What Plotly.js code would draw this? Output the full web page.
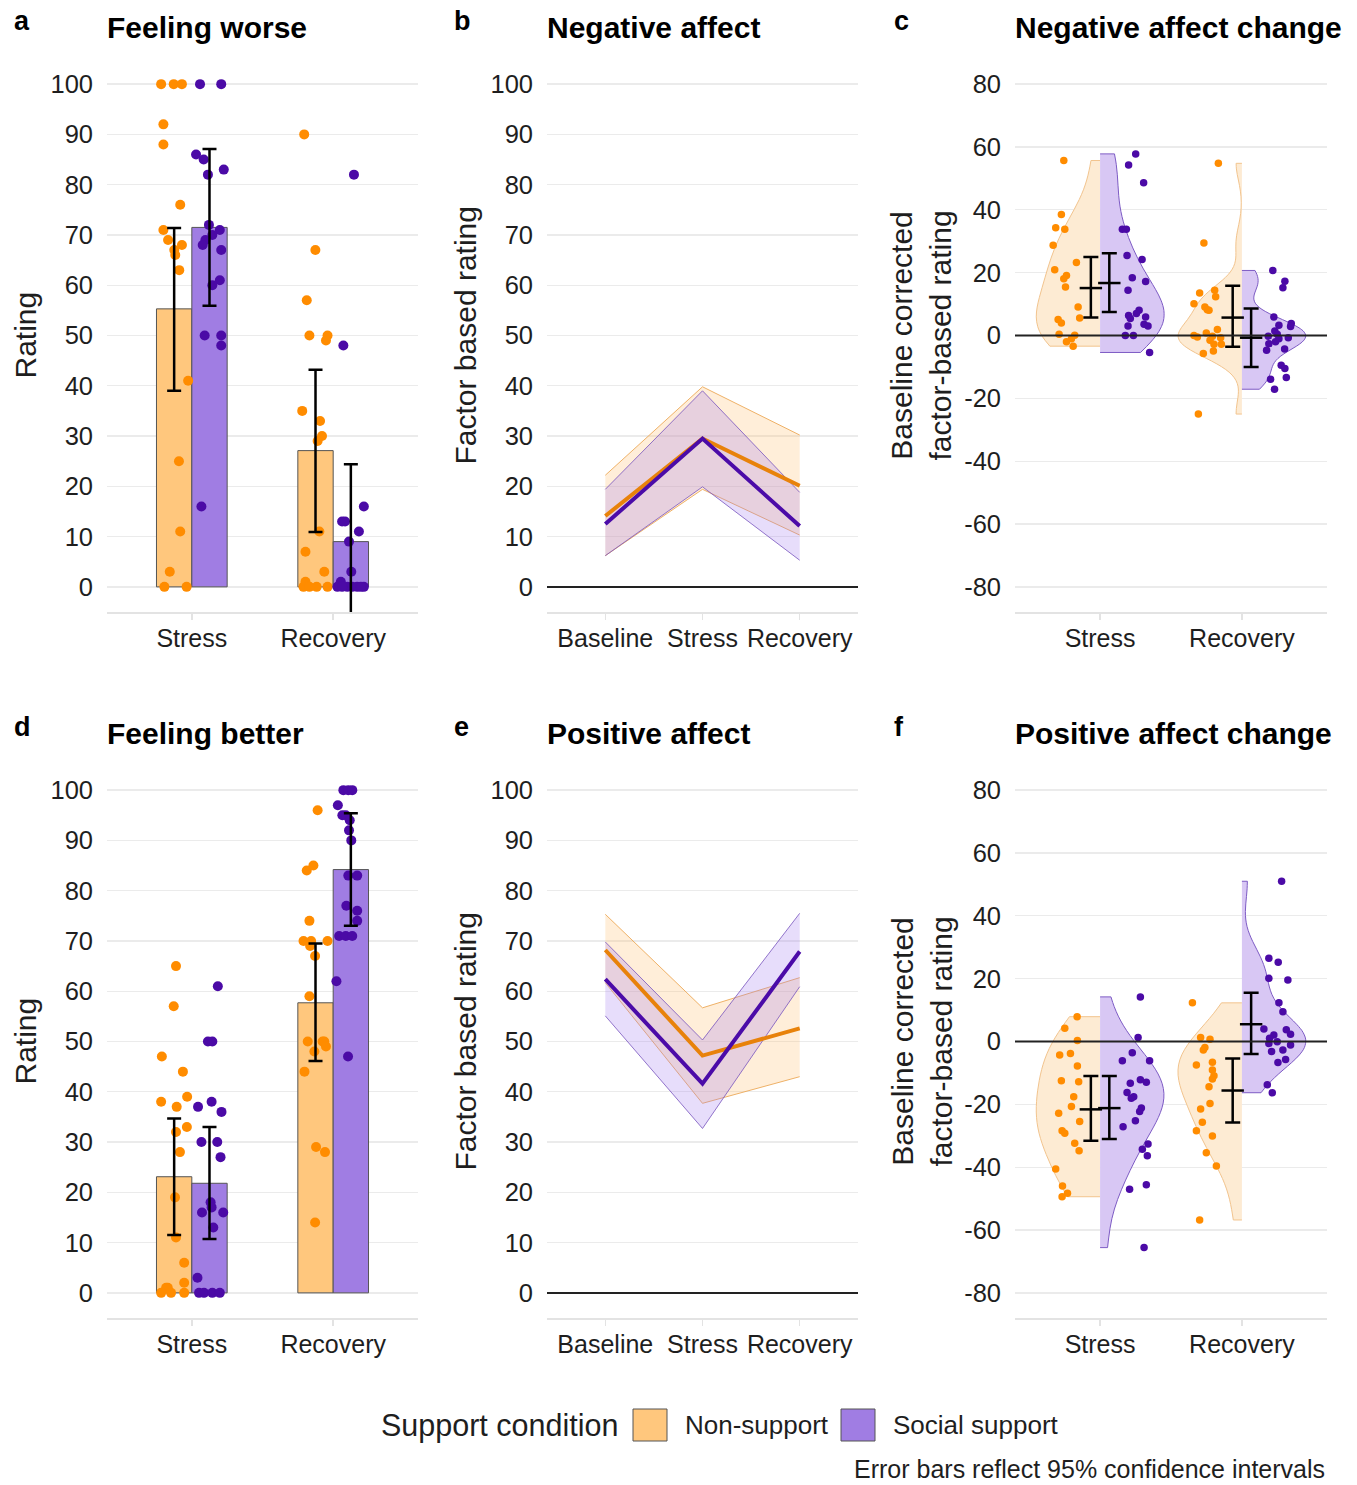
<!DOCTYPE html>
<html><head><meta charset="utf-8">
<script src="https://cdn.plot.ly/plotly-3.0.1.min.js"></script>
<style>html,body{margin:0;padding:0;background:#fff}</style>
</head><body><div id="chart" style="width:1357px;height:1485px"></div>
<script>
// ---------- categories ----------
const groups = ['Non-support', 'Social support'];
const legendTitle = 'Support condition';
const barCats = ['Stress', 'Recovery'];
const timeCats = ['Baseline', 'Stress', 'Recovery'];

// ---------- a: Feeling worse (means, 95% CI) ----------
const worseMeanNS = [55.3, 27.1];
const worseLowNS  = [39.0, 10.9];
const worseHighNS = [71.4, 43.2];
const worseMeanSS = [71.5, 9.0];
const worseLowSS  = [55.9, -6.4];
const worseHighSS = [87.1, 24.4];
// individual ratings and their horizontal jitter
const worseStressNS = [100,100,100,92,88,76,71,69,68,67,66,63,41,25,11,3,0,0];
const worseStressNSJit = [-0.217,-0.128,-0.070,-0.201,-0.201,-0.082,-0.201,-0.168,-0.070,-0.124,-0.117,-0.089,-0.026,-0.091,-0.082,-0.156,-0.194,-0.037];
const worseStressSS = [100,100,86,85,83,82,72,71,70,69,68,67,61,60,50,50,48,16];
const worseStressSSJit = [0.058,0.208,0.030,0.084,0.226,0.114,0.121,0.198,0.145,0.096,0.077,0.208,0.198,0.145,0.091,0.208,0.208,0.068];
const worseRecovNS = [90,67,57,50,50,49,35,33,30,29,11,7,3,1,0,0,0,0];
const worseRecovNSJit = [-0.205,-0.126,-0.187,-0.168,-0.040,-0.051,-0.219,-0.093,-0.079,-0.110,-0.098,-0.196,-0.063,-0.196,-0.210,-0.117,-0.040,-0.168];
const worseRecovSS = [82,48,16,13,13,11,9,3,1,0,0,0,0,0,0,0];
const worseRecovSSJit = [0.147,0.072,0.217,0.063,0.084,0.182,0.112,0.128,0.054,0.030,0.100,0.135,0.170,0.217,0.063,0.196];

// ---------- d: Feeling better ----------
const betterMeanNS = [23.1, 57.7];
const betterLowNS  = [11.5, 46.1];
const betterHighNS = [34.7, 69.5];
const betterMeanSS = [21.8, 84.2];
const betterLowSS  = [10.7, 73.0];
const betterHighSS = [33.0, 95.4];
const betterStressNS = [65,57,47,44,39,38,37,33,32,28,19,11,6,2,1,1,0,0,0];
const betterStressNSJit = [-0.112,-0.128,-0.212,-0.063,-0.033,-0.217,-0.107,-0.035,-0.112,-0.084,-0.119,-0.112,-0.054,-0.054,-0.170,-0.182,-0.217,-0.147,-0.054];
const betterStressSS = [61,50,50,38,37,36,30,30,27,18,17,16,16,13,3,0,0,0,0];
const betterStressSSJit = [0.184,0.114,0.145,0.140,0.044,0.210,0.068,0.180,0.203,0.133,0.140,0.072,0.222,0.152,0.040,0.051,0.086,0.145,0.198];
const betterRecovNS = [96,85,84,74,70,70,70,69,67,59,50,50,50,49,48,44,29,28,14];
const betterRecovNSJit = [-0.110,-0.140,-0.187,-0.168,-0.210,-0.156,-0.040,-0.163,-0.128,-0.168,-0.180,-0.075,-0.063,-0.051,-0.133,-0.203,-0.121,-0.058,-0.128];
const betterRecovSS = [100,100,100,97,95,95,94,92,90,83,83,77,76,74,71,71,71,62,47];
const betterRecovSSJit = [0.072,0.107,0.135,0.033,0.065,0.089,0.117,0.112,0.128,0.107,0.170,0.093,0.170,0.170,0.042,0.089,0.135,0.023,0.105];

// ---------- b: Negative affect (mean, CI) ----------
const negMeanNS = [14.1, 29.5, 20.1];
const negLowNS  = [6.2, 19.4, 10.3];
const negHighNS = [22.2, 39.8, 30.2];
const negMeanSS = [12.5, 29.5, 12.1];
const negLowSS  = [6.2, 19.9, 5.3];
const negHighSS = [19.4, 39.0, 18.8];

// ---------- e: Positive affect ----------
const posMeanNS = [68.2, 47.2, 52.6];
const posLowNS  = [61.7, 37.7, 43.0];
const posHighNS = [75.3, 56.7, 62.7];
const posMeanSS = [62.4, 41.6, 67.9];
const posLowSS  = [55.1, 32.7, 60.9];
const posHighSS = [69.8, 50.3, 75.5];

// ---------- c: Negative affect change ----------
const negChgMeanNS = [15.1, 5.7];
const negChgLowNS  = [5.7, -3.6];
const negChgHighNS = [25.0, 15.8];
const negChgMeanSS = [16.7, -0.7];
const negChgLowSS  = [7.5, -10.0];
const negChgHighSS = [26.2, 8.6];
const negChgStressNS = [55.7,38.5,34.3,33.8,28.7,23.2,20.9,19.1,18.1,15.4,9.1,5.6,5.1,4.0,0.4,0.1,-1.0,-2.0,-3.4];
const negChgStressNSJit = [-0.256,-0.273,-0.313,-0.249,-0.331,-0.167,-0.320,-0.237,-0.256,-0.244,-0.155,-0.144,-0.296,-0.273,-0.289,-0.179,-0.202,-0.237,-0.190];
const negChgStressSS = [57.8,54.3,48.6,33.8,33.8,25.5,24.2,18.4,17.2,14.4,8.0,7.0,6.4,5.4,5.9,3.0,3.6,3.0,0,0,-5.4];
const negChgStressSSJit = [0.251,0.201,0.307,0.157,0.185,0.190,0.296,0.227,0.321,0.197,0.275,0.256,0.201,0.213,0.321,0.197,0.310,0.338,0.178,0.235,0.349];
const negChgRecovNS = [54.8,29.4,14.4,13.5,12.3,10.1,9.1,8.2,8.0,1.9,0.8,0,-0.5,-0.2,-0.7,-1.5,-2.8,-2.8,-4.9,-5.7,-25.0];
const negChgRecovNSJit = [-0.166,-0.268,-0.192,-0.298,-0.185,-0.338,-0.261,-0.244,-0.232,-0.173,-0.251,-0.338,-0.314,-0.208,-0.150,-0.225,-0.197,-0.145,-0.201,-0.272,-0.307];
const negChgRecovSS = [20.7,17.3,15.2,5.9,3.8,2.9,3.3,1.4,0.4,-0.2,-0.7,-1.0,-2.0,-2.6,-4.3,-4.7,-9.5,-10.5,-13.4,-13.9,-17.1];
const negChgRecovSSJit = [0.218,0.303,0.289,0.225,0.348,0.343,0.261,0.232,0.249,0.186,0.327,0.261,0.237,0.190,0.301,0.174,0.277,0.303,0.313,0.202,0.230];

// ---------- f: Positive affect change ----------
const posChgMeanNS = [-21.6, -15.6];
const posChgLowNS  = [-31.6, -25.8];
const posChgHighNS = [-11.0, -5.4];
const posChgMeanSS = [-21.2, 5.5];
const posChgLowSS  = [-31.0, -4.0];
const posChgHighSS = [-11.0, 15.5];
const posChgStressNS = [7.9,4.2,0.3,-3.8,-4.3,-7.8,-12.5,-12.8,-17.6,-20.7,-22.8,-25.5,-28.4,-29.2,-32.4,-34.8,-40.6,-46.0,-48.3,-49.4];
const posChgStressNSJit = [-0.162,-0.249,-0.160,-0.209,-0.285,-0.160,-0.273,-0.151,-0.186,-0.202,-0.292,-0.144,-0.268,-0.249,-0.179,-0.148,-0.313,-0.265,-0.230,-0.268];
const posChgStressSS = [14.2,1.3,-3.6,-6.1,-6.1,-12.2,-13.0,-13.3,-16.2,-17.6,-18.1,-21.2,-22.3,-25.2,-27.1,-32.6,-34.3,-36.4,-45.6,-47.0,-65.6];
const posChgStressSSJit = [0.284,0.268,0.227,0.157,0.349,0.284,0.326,0.213,0.190,0.237,0.220,0.291,0.279,0.249,0.162,0.338,0.298,0.333,0.326,0.208,0.310];
const posChgRecovNS = [12.3,1.3,0.7,-1.9,-2.7,-6.6,-7.5,-9.1,-10.9,-11.9,-14.4,-19.7,-21.5,-25.7,-28.4,-30.1,-35.4,-39.6,-56.8];
const posChgRecovNSJit = [-0.349,-0.291,-0.225,-0.261,-0.272,-0.208,-0.321,-0.208,-0.197,-0.208,-0.232,-0.225,-0.291,-0.279,-0.321,-0.208,-0.251,-0.180,-0.298];
const posChgRecovSS = [51.0,26.5,25.2,20.1,19.6,12.3,9.5,4.0,3.7,2.3,2.1,1.0,-0.1,-0.6,-1.1,-2.7,-3.2,-5.7,-6.7,-13.8,-16.3];
const posChgRecovSSJit = [0.280,0.190,0.256,0.190,0.324,0.261,0.289,0.155,0.313,0.343,0.225,0.195,0.249,0.190,0.343,0.289,0.209,0.308,0.254,0.179,0.214];

// ---------- styling ----------
const FONT = 'Liberation Sans, Arial, Helvetica, sans-serif';
const TXT = '#1e1e1e';
const ORANGE_PT = '#FF8C00', PURPLE_PT = '#4B0AA6';
const ORANGE_BAR = '#FFC77D', PURPLE_BAR = '#A07DE3';
const ORANGE_LINE = '#E8820A', PURPLE_LINE = '#4B0BA8';
const ORANGE_RIB = 'rgba(255,190,110,0.26)', PURPLE_RIB = 'rgba(160,120,240,0.25)';
const ORANGE_RIB_L = 'rgba(235,165,80,0.85)', PURPLE_RIB_L = 'rgba(120,85,190,0.8)';
const ORANGE_VIO = '#FDEBD3', PURPLE_VIO = '#D8C7F4';
const ORANGE_VIO_L = '#F2C48E', PURPLE_VIO_L = '#7D5BC4';
const DODGE = 0.125;

const traces = [];
const catPos = barCats.map((c, i) => i + 1);
const timePos = timeCats.map((c, i) => i + 1);

function barPair(meanNS, meanSS, xa, ya) {
  [[meanNS, ORANGE_BAR, -DODGE, 0], [meanSS, PURPLE_BAR, DODGE, 1]].forEach(([m, col, off, gi]) => {
    traces.push({
      type: 'bar', x: catPos.map(p => p + off), y: m, width: 0.25,
      name: groups[gi], legendgroup: groups[gi], showlegend: false,
      marker: {color: col, line: {color: '#555', width: 1}},
      xaxis: xa, yaxis: ya, hoverinfo: 'skip'
    });
  });
}
function points(pos, vals, jit, color, size, xa, ya) {
  traces.push({
    type: 'scatter', mode: 'markers', x: vals.map((v, i) => pos + jit[i]), y: vals,
    marker: {color: color, size: size, line: {width: 0}},
    xaxis: xa, yaxis: ya, showlegend: false, hoverinfo: 'skip'
  });
}
function barErrors(meanNS, lowNS, highNS, meanSS, lowSS, highSS, xa, ya) {
  [[meanNS, lowNS, highNS, -DODGE], [meanSS, lowSS, highSS, DODGE]].forEach(([m, lo, hi, off]) => {
    traces.push({
      type: 'scatter', mode: 'markers', x: catPos.map(p => p + off), y: m,
      marker: {size: 0.1, color: 'rgba(0,0,0,0)'},
      error_y: {type: 'data', symmetric: false, array: hi.map((h, i) => h - m[i]), arrayminus: lo.map((l, i) => m[i] - l), color: '#000', thickness: 2.5, width: 7},
      xaxis: xa, yaxis: ya, showlegend: false, hoverinfo: 'skip'
    });
  });
}
function ribbonLines(meanNS, lowNS, highNS, meanSS, lowSS, highSS, xa, ya) {
  [[highNS, lowNS, ORANGE_RIB, ORANGE_RIB_L], [highSS, lowSS, PURPLE_RIB, PURPLE_RIB_L]].forEach(([hi, lo, fc, lc]) => {
    traces.push({type: 'scatter', mode: 'lines', x: timePos, y: hi, line: {color: lc, width: 1}, xaxis: xa, yaxis: ya, showlegend: false, hoverinfo: 'skip'});
    traces.push({type: 'scatter', mode: 'lines', x: timePos, y: lo, line: {color: lc, width: 1}, fill: 'tonexty', fillcolor: fc, xaxis: xa, yaxis: ya, showlegend: false, hoverinfo: 'skip'});
  });
  [[meanNS, ORANGE_LINE], [meanSS, PURPLE_LINE]].forEach(([m, c]) => {
    traces.push({type: 'scatter', mode: 'lines', x: timePos, y: m, line: {color: c, width: 4}, xaxis: xa, yaxis: ya, showlegend: false, hoverinfo: 'skip'});
  });
}
function violins(stressNS, recovNS, stressSS, recovSS, xa, ya) {
  [[stressNS, catPos[0], 'negative', ORANGE_VIO, ORANGE_VIO_L],
   [recovNS, catPos[1], 'negative', ORANGE_VIO, ORANGE_VIO_L],
   [stressSS, catPos[0], 'positive', PURPLE_VIO, PURPLE_VIO_L],
   [recovSS, catPos[1], 'positive', PURPLE_VIO, PURPLE_VIO_L]].forEach(([vals, pos, side, fc, lc], k) => {
    traces.push({
      type: 'violin', x0: pos, y: vals, name: 'v' + k + xa, scalegroup: 'v' + k + xa,
      side: side, width: 0.9, scalemode: 'width', spanmode: 'hard', points: false,
      fillcolor: fc, line: {color: lc, width: 1}, box: {visible: false}, meanline: {visible: false},
      xaxis: xa, yaxis: ya, showlegend: false, hoverinfo: 'skip'
    });
  });
}
function meanErrors(meanNS, lowNS, highNS, meanSS, lowSS, highSS, xa, ya) {
  [[meanNS, lowNS, highNS, -0.065], [meanSS, lowSS, highSS, 0.065]].forEach(([m, lo, hi, off]) => {
    traces.push({
      type: 'scatter', mode: 'markers', x: catPos.map(p => p + off), y: m,
      marker: {symbol: 'line-ew', size: 16, color: '#000', line: {color: '#000', width: 2.5}},
      error_y: {type: 'data', symmetric: false, array: hi.map((h, i) => h - m[i]), arrayminus: lo.map((l, i) => m[i] - l), color: '#000', thickness: 2.5, width: 7.5},
      xaxis: xa, yaxis: ya, showlegend: false, hoverinfo: 'skip'
    });
  });
}

// panel a
barPair(worseMeanNS, worseMeanSS, 'x', 'y');
points(catPos[0], worseStressNS, worseStressNSJit, ORANGE_PT, 10, 'x', 'y');
points(catPos[0], worseStressSS, worseStressSSJit, PURPLE_PT, 10, 'x', 'y');
points(catPos[1], worseRecovNS, worseRecovNSJit, ORANGE_PT, 10, 'x', 'y');
points(catPos[1], worseRecovSS, worseRecovSSJit, PURPLE_PT, 10, 'x', 'y');
barErrors(worseMeanNS, worseLowNS, worseHighNS, worseMeanSS, worseLowSS, worseHighSS, 'x', 'y');
// panel b
ribbonLines(negMeanNS, negLowNS, negHighNS, negMeanSS, negLowSS, negHighSS, 'x2', 'y2');
// panel c
violins(negChgStressNS, negChgRecovNS, negChgStressSS, negChgRecovSS, 'x3', 'y3');
points(catPos[0], negChgStressNS, negChgStressNSJit, ORANGE_PT, 7.5, 'x3', 'y3');
points(catPos[0], negChgStressSS, negChgStressSSJit, PURPLE_PT, 7.5, 'x3', 'y3');
points(catPos[1], negChgRecovNS, negChgRecovNSJit, ORANGE_PT, 7.5, 'x3', 'y3');
points(catPos[1], negChgRecovSS, negChgRecovSSJit, PURPLE_PT, 7.5, 'x3', 'y3');
meanErrors(negChgMeanNS, negChgLowNS, negChgHighNS, negChgMeanSS, negChgLowSS, negChgHighSS, 'x3', 'y3');
// panel d
barPair(betterMeanNS, betterMeanSS, 'x4', 'y4');
points(catPos[0], betterStressNS, betterStressNSJit, ORANGE_PT, 10, 'x4', 'y4');
points(catPos[0], betterStressSS, betterStressSSJit, PURPLE_PT, 10, 'x4', 'y4');
points(catPos[1], betterRecovNS, betterRecovNSJit, ORANGE_PT, 10, 'x4', 'y4');
points(catPos[1], betterRecovSS, betterRecovSSJit, PURPLE_PT, 10, 'x4', 'y4');
barErrors(betterMeanNS, betterLowNS, betterHighNS, betterMeanSS, betterLowSS, betterHighSS, 'x4', 'y4');
// panel e
ribbonLines(posMeanNS, posLowNS, posHighNS, posMeanSS, posLowSS, posHighSS, 'x5', 'y5');
// panel f
violins(posChgStressNS, posChgRecovNS, posChgStressSS, posChgRecovSS, 'x6', 'y6');
points(catPos[0], posChgStressNS, posChgStressNSJit, ORANGE_PT, 7.5, 'x6', 'y6');
points(catPos[0], posChgStressSS, posChgStressSSJit, PURPLE_PT, 7.5, 'x6', 'y6');
points(catPos[1], posChgRecovNS, posChgRecovNSJit, ORANGE_PT, 7.5, 'x6', 'y6');
points(catPos[1], posChgRecovSS, posChgRecovSSJit, PURPLE_PT, 7.5, 'x6', 'y6');
meanErrors(posChgMeanNS, posChgLowNS, posChgHighNS, posChgMeanSS, posChgLowSS, posChgHighSS, 'x6', 'y6');

// ---------- axes ----------
const W = 1357, H = 1485;
const colX = [[107, 418], [547, 858], [1015, 1327]];
const rowY = [[59, 612], [765, 1318]];
const dx = c => [colX[c][0] / W, colX[c][1] / W];
const dy = r => [1 - rowY[r][1] / H, 1 - rowY[r][0] / H];
const ratingTicks = [0,10,20,30,40,50,60,70,80,90,100];
const changeTicks = [-80,-60,-40,-20,0,20,40,60,80];

function xAxis(c, vals, labels, anchor) {
  return {domain: dx(c), range: [0.4, vals.length + 0.6], tickmode: 'array', tickvals: vals, ticktext: labels,
    showgrid: false, zeroline: false, showline: true, linecolor: '#e3e3e3', linewidth: 1.5,
    ticks: 'outside', ticklen: 6, tickcolor: '#e3e3e3', tickwidth: 1.5, ticklabelstandoff: -3,
    tickfont: {family: FONT, size: 25, color: TXT}, anchor: anchor, fixedrange: true};
}
function yAxis(r, ticks, range, zero, anchor) {
  return {domain: dy(r), range: range, tickmode: 'array', tickvals: ticks, ticktext: ticks.map(String),
    showgrid: true, gridcolor: '#ebebeb', gridwidth: 1.3, zeroline: zero, zerolinecolor: '#222', zerolinewidth: 2,
    showline: false, ticks: '', ticklabelstandoff: 13,
    tickfont: {family: FONT, size: 25.5, color: TXT}, anchor: anchor, fixedrange: true};
}

const annotations = [];
function ann(text, xpx, ypx, opts) {
  annotations.push(Object.assign({text: text, xref: 'paper', yref: 'paper', x: xpx / W, y: 1 - ypx / H,
    showarrow: false, xanchor: 'left', yanchor: 'middle', font: {family: FONT, size: 28, color: '#000'}}, opts || {}));
}
const panelTitles = [['a', 'Feeling worse'], ['b', 'Negative affect'], ['c', 'Negative affect change'],
                     ['d', 'Feeling better'], ['e', 'Positive affect'], ['f', 'Positive affect change']];
const letterX = [12, 452, 892];
panelTitles.forEach(([l, t], i) => {
  const c = i % 3, r = Math.floor(i / 3);
  const yTop = r === 0 ? 0 : 706;
  ann('<b>' + l + '</b>', letterX[c], yTop + 21, {font: {family: FONT, size: 27, color: '#000'}});
  ann('<b>' + t + '</b>', colX[c][0] - 2, yTop + 27, {font: {family: FONT, size: 30, color: '#000'}});
});
const yTitles = ['Rating', 'Factor based rating', 'Baseline corrected<br>factor-based rating'];
const yTitleX = [25, 465, 921];
[0, 1].forEach(r => {
  const yc = (rowY[r][0] + rowY[r][1]) / 2;
  yTitles.forEach((t, c) => {
    ann(t, yTitleX[c], yc, {textangle: -90, xanchor: 'center', font: {family: FONT, size: 30, color: TXT}});
  });
});
ann('Error bars reflect 95% confidence intervals', 1326, 1469, {xanchor: 'right', borderpad: 0, font: {family: FONT, size: 25, color: TXT}});

// ---------- legend (key boxes + labels) ----------
const shapes = [];
ann(legendTitle, 379, 1425, {font: {family: FONT, size: 30.5, color: TXT}});
const keyX = [633, 841];
const keyFill = [ORANGE_BAR, PURPLE_BAR];
groups.forEach((g, i) => {
  shapes.push({type: 'rect', xref: 'paper', yref: 'paper', x0: keyX[i] / W, x1: (keyX[i] + 34) / W,
    y0: 1 - 1441 / H, y1: 1 - 1409 / H, fillcolor: keyFill[i], line: {color: '#555', width: 1}, layer: 'above'});
  ann(g, keyX[i] + 50, 1425, {font: {family: FONT, size: 26, color: TXT}});
});

const zeroLine = (xa, ya) => ({type: 'line', xref: xa + ' domain', x0: 0, x1: 1, yref: ya, y0: 0, y1: 0,
  line: {color: '#222', width: 2}, layer: 'above'});
shapes.push(zeroLine('x3', 'y3'), zeroLine('x6', 'y6'));

const layout = {
  width: W, height: H, margin: {l: 0, r: 0, t: 0, b: 0},
  paper_bgcolor: '#fff', plot_bgcolor: '#fff',
  barmode: 'overlay', violinmode: 'overlay', hovermode: false, showlegend: false,
  font: {family: FONT, color: TXT},
  xaxis: xAxis(0, catPos, barCats, 'y'),
  yaxis: yAxis(0, ratingTicks, [-5, 105], false, 'x'),
  xaxis2: xAxis(1, timePos, timeCats, 'y2'),
  yaxis2: yAxis(0, ratingTicks, [-5, 105], true, 'x2'),
  xaxis3: xAxis(2, catPos, barCats, 'y3'),
  yaxis3: yAxis(0, changeTicks, [-88, 88], false, 'x3'),
  xaxis4: xAxis(0, catPos, barCats, 'y4'),
  yaxis4: yAxis(1, ratingTicks, [-5, 105], false, 'x4'),
  xaxis5: xAxis(1, timePos, timeCats, 'y5'),
  yaxis5: yAxis(1, ratingTicks, [-5, 105], true, 'x5'),
  xaxis6: xAxis(2, catPos, barCats, 'y6'),
  yaxis6: yAxis(1, changeTicks, [-88, 88], false, 'x6'),
  shapes: shapes,
  annotations: annotations
};

Plotly.newPlot('chart', traces, layout, {displayModeBar: false, staticPlot: true});
</script>
</body></html>
